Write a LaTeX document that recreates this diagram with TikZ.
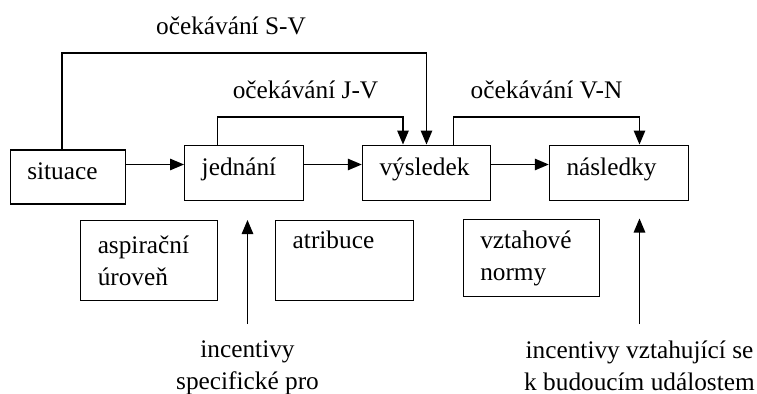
\documentclass[tikz,border=0pt]{standalone}
\usepackage{fontspec}
\setmainfont{Liberation Serif}
\usetikzlibrary{arrows.meta}

\tikzset{
  box/.style={draw, line width=0.85pt, inner xsep=0.34cm, align=left},
  topbox/.style={box, minimum height=1.11cm, text height=0.7em, text depth=0.45em},
  lowbox/.style={box, minimum height=1.59cm},
  incentive/.style={inner sep=0pt, anchor=north, align=center},
  link/.style={line width=0.85pt, ->}
}

\begin{document}
\begin{tikzpicture}[>={Triangle[length=2.8mm,width=2.3mm]},
  every node/.style={font=\fontsize{14.4}{18.2}\selectfont}]
\useasboundingbox (0,0) rectangle (15.14,-7.88);

% main chain
\draw (1.36,-3.54)  node (sit) [topbox, text width=1.63cm, minimum height=1.08cm] {situace};
\draw (4.88,-3.46)  node (jed) [topbox, text width=1.69cm] {jednání};
\draw (8.53,-3.46)  node (vys) [topbox, text width=1.88cm] {výsledek};
\draw (12.38,-3.46) node (nas) [topbox, text width=2.10cm] {následky};

\coordinate (row) at (0,-3.29);
\draw[link] (sit.east |- row) -- (jed.west |- row);
\draw[link] (jed.east |- row) -- (vys.west |- row);
\draw[link] (vys.east |- row) -- (nas.west |- row);

% expectations
\draw (4.62,-0.686)  node (sv) [anchor=base] {očekávání S-V};
\draw (6.11,-1.967)  node (jv) [anchor=base] {očekávání J-V};
\draw (10.93,-1.967) node (vn) [anchor=base] {očekávání V-N};
\draw[link] ([xshift=-0.12cm]sit.north) -- ++(0,1.93) -| (vys.north);
\draw[link] ([xshift=-0.53cm]jed.north) -- ++(0,0.55) -| ([xshift=-0.47cm]vys.north);
\draw[link] ([xshift=0.54cm]vys.north)  -- ++(0,0.55) -| ([xshift=0.41cm]nas.north);

% moderators
\draw (2.98,-5.21)  node (asp) [lowbox, text width=2.05cm] {aspirační\\úroveň};
\draw (6.89,-5.21)  node (atr) [lowbox, text width=2.07cm] {atribuce\\ \strut};
\draw (10.63,-5.16) node (vzt) [lowbox, text width=2.05cm, minimum height=1.55cm] {vztahové\\normy};

% incentives
\draw (4.95,-6.81)  node (inc1) [incentive] {incentivy\\specifické pro};
\draw (12.79,-6.81) node (inc2) [incentive] {incentivy vztahující se\\k budoucím událostem};
\draw[link, shorten <=0.33cm] (inc1.north) -- (inc1.north |- asp.north);
\draw[link, shorten <=0.33cm] (inc2.north) -- (inc2.north |- vzt.north);
\end{tikzpicture}
\end{document}
